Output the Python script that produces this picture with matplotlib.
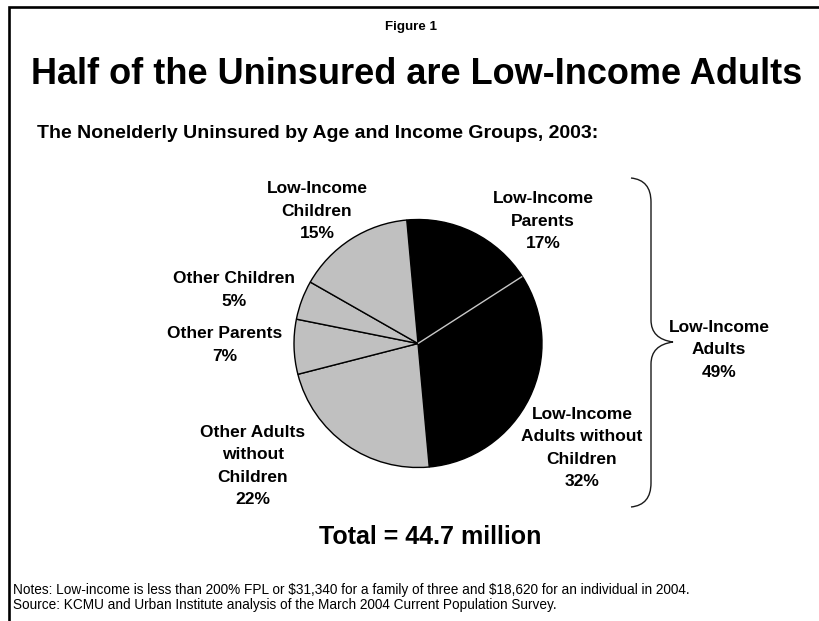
import matplotlib.pyplot as plt
from matplotlib.path import Path
from matplotlib.patches import PathPatch
import numpy as np

plt.rcParams['font.family'] = ['Liberation Sans', 'DejaVu Sans']

# uninsured shares, clockwise from the top
groups = ['Low-Income\nParents', 'Low-Income\nAdults without\nChildren',
          'Other Adults\nwithout\nChildren', 'Other Parents',
          'Other Children', 'Low-Income\nChildren']
shares = [17, 32, 22, 7, 5, 15]
colors = ['#000000', '#000000', '#C0C0C0', '#C0C0C0', '#C0C0C0', '#C0C0C0']
low_income_adults = 49
total_millions = 44.7

W, H = 819, 621
fig = plt.figure(figsize=(W / 100, H / 100), dpi=100)
ax = fig.add_axes([0, 0, 1, 1])

def py(y):
    # pixel rows measured from the top
    return H - y

cx, cy, r = 418, py(343.5), 124
start = 95.2
wedges, _ = ax.pie(shares, colors=colors, startangle=start, counterclock=False,
                   center=(cx, cy), radius=r, frame=True,
                   wedgeprops=dict(edgecolor='black', linewidth=1))

# light divider between the two black slices
ang = np.radians(start - 360 * shares[0] / sum(shares))
ax.plot([cx, cx + r * np.cos(ang)], [cy, cy + r * np.sin(ang)],
        color='#C8C8C8', lw=1, solid_capstyle='butt')

label_pos = [(543, 221), (582, 448), (253, 466), (225, 345), (234, 290), (317, 211)]
for name, val, (x, y) in zip(groups, shares, label_pos):
    ax.text(x, py(y), f'{name}\n{val}%', ha='center', va='center',
            fontsize=12.5, fontweight='bold', linespacing=1.62)

# brace grouping the low-income adults
bx, top, bot, tip = 651, 178, 507, (673, 342)
verts = [(631, py(top)), (651, py(top + 2)), (bx, py(top + 24)),
         (bx, py(tip[1] - 22)),
         (bx, py(tip[1] - 3)), (tip[0], py(tip[1])),
         (bx, py(tip[1] + 3)), (bx, py(tip[1] + 22)),
         (bx, py(bot - 24)),
         (651, py(bot - 2)), (631, py(bot))]
codes = [Path.MOVETO, Path.CURVE3, Path.CURVE3, Path.LINETO,
         Path.CURVE3, Path.CURVE3, Path.CURVE3, Path.CURVE3,
         Path.LINETO, Path.CURVE3, Path.CURVE3]
ax.add_patch(PathPatch(Path(verts, codes), fill=False, edgecolor='#1a1a1a', lw=1))
ax.text(719, py(350), f'Low-Income\nAdults\n{low_income_adults}%', ha='center',
        va='center', fontsize=12.5, fontweight='bold', linespacing=1.62)

ax.text(411, py(27), 'Figure 1', ha='center', va='center', fontsize=9.6, fontweight='bold')
ax.text(417, py(75), 'Half of the Uninsured are Low-Income Adults', ha='center',
        va='center', fontsize=26, fontweight='bold')
ax.text(37, py(134), 'The Nonelderly Uninsured by Age and Income Groups, 2003:',
        ha='left', va='center', fontsize=14, fontweight='bold')
ax.text(430, py(537), f'Total = {total_millions} million', ha='center', va='center',
        fontsize=18, fontweight='bold')
ax.text(13, py(590), r'Notes: Low-income is less than 200% FPL or \$31,340 for a family of '
        r'three and \$18,620 for an individual in 2004.', ha='left', va='center', fontsize=9.8)
ax.text(13, py(605), 'Source: KCMU and Urban Institute analysis of the March 2004 '
        'Current Population Survey.', ha='left', va='center', fontsize=9.8)

# frame along the top and left
ax.plot([9, 9, W], [0, py(7), py(7)], color='black', lw=1.9, solid_joinstyle='miter')

ax.set_xlim(0, W)
ax.set_ylim(0, H)
ax.set_aspect('equal')
ax.axis('off')
fig.savefig('out.png', dpi=100)
